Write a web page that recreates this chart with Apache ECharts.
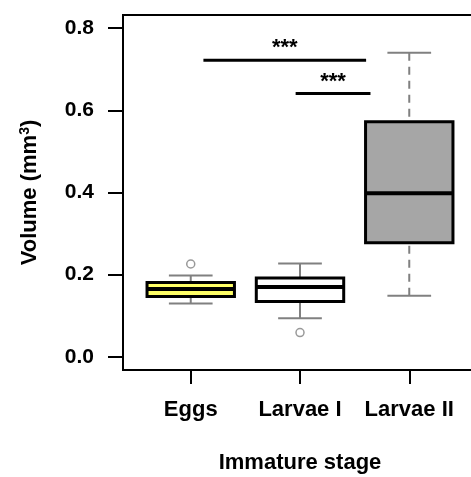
<!DOCTYPE html>
<html>
<head>
<meta charset="utf-8">
<script src="https://cdn.jsdelivr.net/npm/echarts@6/dist/echarts.min.js"></script>
<style>
  html, body { margin: 0; padding: 0; background: #fff; }
  #main { width: 471px; height: 477px; }
</style>
</head>
<body>
<div id="main"></div>
<script>
// --- data ---
var stages = ['Eggs', 'Larvae I', 'Larvae II'];
var whiskLow = [0.130, 0.094, 0.149];
var q1 = [0.147, 0.135, 0.278];
var median = [0.165, 0.170, 0.398];
var q3 = [0.181, 0.192, 0.572];
var whiskHigh = [0.198, 0.227, 0.740];
var boxFill = ['#ffff66', '#ffffff', '#a6a6a6'];
var whiskDash = [false, false, true];
// outliers: [stage position, value]
var outliers = [[1, 0.226], [2, 0.059]];
// significance bars: from, to, height
var sigFrom = [1.116, 1.96];
var sigTo = [2.605, 2.645];
var sigY = [0.722, 0.641];
var sigText = ['***', '***'];
var yTicks = [0, 0.2, 0.4, 0.6, 0.8];

var font = 'Liberation Sans, Arial, sans-serif';
var myChart = echarts.init(document.getElementById('main'));

var boxData = stages.map(function (s, i) {
  return [i + 1, whiskLow[i], q1[i], median[i], q3[i], whiskHigh[i], i];
});
var sigData = sigFrom.map(function (f, i) {
  return [f, sigTo[i], sigY[i], i];
});

option = {
  animation: false,
  grid: {
    left: 123, top: 15, width: 354, height: 355,
    outerBoundsMode: 'none',
    show: true, borderColor: '#000', borderWidth: 2, backgroundColor: 'transparent'
  },
  xAxis: {
    type: 'value', min: 0.38, max: 3.62,
    name: 'Immature stage', nameLocation: 'middle', nameGap: 82,
    nameTextStyle: { fontFamily: font, fontWeight: 'bold', fontSize: 22, color: '#000' },
    splitLine: { show: false },
    axisLine: { show: true, onZero: false, lineStyle: { color: '#000', width: 2 } },
    axisTick: { show: true, length: 14, lineStyle: { color: '#000', width: 2 }, customValues: [1, 2, 3] },
    axisLabel: {
      customValues: [1, 2, 3], margin: 29,
      fontFamily: font, fontWeight: 'bold', fontSize: 22, color: '#000',
      formatter: function (v) { return stages[Math.round(v) - 1]; }
    }
  },
  yAxis: {
    type: 'value', min: -0.032, max: 0.832,
    name: '{a|Volume (mm}{s|3}{a|)}', nameLocation: 'middle', nameGap: 81,
    nameTextStyle: {
      rich: {
        a: { fontFamily: font, fontWeight: 'bold', fontSize: 22, color: '#000' },
        s: { fontFamily: font, fontWeight: 'bold', fontSize: 14, color: '#000', verticalAlign: 'top', padding: [0, 0, 10, 0] }
      }
    },
    splitLine: { show: false },
    axisLine: { show: true, onZero: false, lineStyle: { color: '#000', width: 2 } },
    axisTick: { show: true, length: 15, lineStyle: { color: '#000', width: 2 }, customValues: yTicks },
    axisLabel: {
      customValues: yTicks, margin: 29,
      fontFamily: font, fontWeight: 'bold', fontSize: 21, color: '#000',
      formatter: function (v) { return v.toFixed(1); }
    }
  },
  series: [
    {
      type: 'custom',
      data: boxData,
      encode: { x: 0, y: [1, 2, 3, 4, 5] },
      renderItem: function (params, api) {
        var x = api.value(0), i = api.value(6);
        var lo = api.coord([x, api.value(1)]);
        var b1 = api.coord([x, api.value(2)]);
        var md = api.coord([x, api.value(3)]);
        var b3 = api.coord([x, api.value(4)]);
        var hi = api.coord([x, api.value(5)]);
        var w = api.size([0.8, 0])[0];
        var cw = api.size([0.4, 0])[0];
        var cx = lo[0];
        var whisk = { stroke: '#808080', lineWidth: 2, lineDash: whiskDash[i] ? [8, 6] : null };
        var cap = { stroke: '#808080', lineWidth: 2 };
        return {
          type: 'group',
          children: [
            { type: 'line', shape: { x1: cx, y1: hi[1], x2: cx, y2: b3[1] }, style: whisk },
            { type: 'line', shape: { x1: cx, y1: lo[1], x2: cx, y2: b1[1] }, style: whisk },
            { type: 'line', shape: { x1: cx - cw / 2, y1: hi[1], x2: cx + cw / 2, y2: hi[1] }, style: cap },
            { type: 'line', shape: { x1: cx - cw / 2, y1: lo[1], x2: cx + cw / 2, y2: lo[1] }, style: cap },
            { type: 'rect', shape: { x: cx - w / 2, y: b3[1], width: w, height: b1[1] - b3[1] },
              style: { fill: boxFill[i], stroke: '#000', lineWidth: 3 } },
            { type: 'line', shape: { x1: cx - w / 2, y1: md[1], x2: cx + w / 2, y2: md[1] },
              style: { stroke: '#000', lineWidth: 4 } }
          ]
        };
      }
    },
    {
      type: 'scatter',
      data: outliers,
      symbol: 'circle', symbolSize: 8,
      itemStyle: { color: '#fff', borderColor: '#808080', borderWidth: 1.5 }
    },
    {
      type: 'custom',
      data: sigData,
      encode: { x: [0, 1], y: 2 },
      renderItem: function (params, api) {
        var a = api.coord([api.value(0), api.value(2)]);
        var b = api.coord([api.value(1), api.value(2)]);
        var i = api.value(3);
        return {
          type: 'group',
          children: [
            { type: 'line', shape: { x1: a[0], y1: a[1], x2: b[0], y2: b[1] },
              style: { stroke: '#000', lineWidth: 3 } },
            { type: 'text', x: (a[0] + b[0]) / 2, y: a[1] - 1,
              style: { text: sigText[i], fontFamily: font, fontWeight: 'bold', fontSize: 22,
                       fill: '#000', align: 'center', verticalAlign: 'bottom' } }
          ]
        };
      }
    }
  ]
};

myChart.setOption(option);
</script>
</body>
</html>
